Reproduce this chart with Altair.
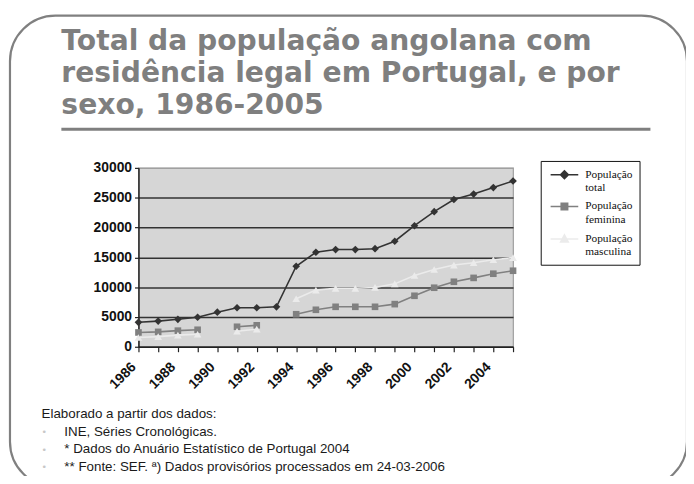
import altair as alt
import pandas as pd

# ---------------- data ----------------
years = list(range(1986, 2006))
total = [4100, 4300, 4600, 4950, 5800, 6550, 6550, 6700, 13500, 15850,
         16300, 16300, 16450, 17700, 20300, 22650, 24700, 25600, 26700, 27800]
feminina = [2400, 2500, 2700, 2850, None, 3350, 3600, None, 5450, 6200,
            6700, 6700, 6700, 7150, 8550, 9900, 10900, 11550, 12250, 12750]
masculina = [1550, 1700, 1950, 2100, None, 2600, 2950, None, 8050, 9500,
             9800, 9800, 9950, 10550, 11950, 12950, 13700, 14100, 14600, 14950]

series = ["População total", "População feminina", "População masculina"]
colors = ["#333333", "#808080", "#ebebeb"]
shapes = ["diamond", "square", "triangle-up"]
sizes = [60, 45, 60]
# legend glyphs: a line with the marker in its middle (unit = half the nominal symbol width)
legend_paths = [
    "M-3.83,0H0.83M-1.5,-0.67L-0.83,0L-1.5,0.67L-2.17,0Z",
    "M-3.83,0H0.83M-2.05,-0.55H-0.95V0.55H-2.05Z",
    "M-3.83,0H0.83M-1.5,-0.7L-0.85,0.5H-2.15Z",
]
y_ticks = [0, 5000, 10000, 15000, 20000, 25000, 30000]

title_lines = ["Total da população angolana com",
               "residência legal em Portugal, e por",
               "sexo, 1986-2005"]
footer_head = "Elaborado a partir dos dados:"
footer_lines = ["\u00a0\u00a0INE, Séries Cronológicas.",
                "* Dados do Anuário Estatístico de Portugal 2004",
                "** Fonte: SEF. ª) Dados provisórios processados em 24-03-2006"]

values = {"População total": total, "População feminina": feminina,
          "População masculina": masculina}

one = pd.DataFrame({"k": [0]})

X = alt.X("year:Q",
          scale=alt.Scale(domain=[1986, 2005], nice=False, zero=False),
          axis=alt.Axis(values=years, title=None, grid=False,
                        labelExpr="datum.value % 2 == 0 ? datum.value + '' : ''",
                        labelAngle=-45, labelAlign="right", labelBaseline="middle",
                        labelOverlap=False, labelFlush=False, labelBound=False,
                        tickSize=5, tickWidth=1.2, tickColor="#222222",
                        domainColor="#222222", domainWidth=1.5,
                        labelFont="Liberation Sans", labelFontWeight="bold",
                        labelFontSize=14, labelColor="#111111", labelPadding=13,
                        labelOffset=-5))
Y = alt.Y("value:Q",
          scale=alt.Scale(domain=[0, 30000], nice=False),
          axis=alt.Axis(values=y_ticks, format="d", title=None, grid=True,
                        gridColor=alt.condition("datum.value === 30000",
                                                alt.value("#a0a0a0"),
                                                alt.value("#333333")),
                        gridWidth=1.5,
                        tickSize=4, tickWidth=1.2, tickColor="#222222",
                        domainColor="#222222", domainWidth=1.5,
                        labelFont="Liberation Sans", labelFontWeight="bold",
                        labelFontSize=14, labelColor="#111111", labelPadding=3))

# ---------------- decorations ----------------
frame = alt.Chart(one).mark_rect(
    cornerRadius=46, fillOpacity=0, stroke="#808080", strokeWidth=2.2
).encode(x=alt.value(-130), x2=alt.value(555), y=alt.value(-154), y2=alt.value(323))

title = alt.Chart(one).mark_text(
    text=title_lines, align="left", baseline="alphabetic", font="DejaVu Sans",
    fontWeight="bold", fontSize=28.5, lineHeight=32, color="#7f7f7f"
).encode(x=alt.value(-78), y=alt.value(-119))

underline = alt.Chart(one).mark_rule(strokeWidth=3, color="#7f7f7f").encode(
    x=alt.value(-78), x2=alt.value(518), y=alt.value(-39))

foot_head = alt.Chart(one).mark_text(
    text=footer_head, align="left", baseline="alphabetic", font="Liberation Sans",
    fontSize=13.5, color="#1a1a1a"
).encode(x=alt.value(-98), y=alt.value(253))

bullets = alt.Chart(one).mark_text(
    text=["•", "•", "•"], align="left", baseline="alphabetic", font="Liberation Sans",
    fontSize=10, lineHeight=18, color="#c8c8c8"
).encode(x=alt.value(-97), y=alt.value(270))

foot_body = alt.Chart(one).mark_text(
    text=footer_lines, align="left", baseline="alphabetic", font="Liberation Sans",
    fontSize=13.5, lineHeight=18, color="#1a1a1a"
).encode(x=alt.value(-75), y=alt.value(271))

# ---------------- data layers ----------------
data_layers = []
for name, col in zip(series, colors):
    d = pd.DataFrame({"year": years, "value": values[name]})
    data_layers.append(
        alt.Chart(d).mark_line(color=col, strokeWidth=1.6,
                               invalid="break-paths-show-domains").encode(x=X, y=Y))
for name, col, shp, sz in zip(series, colors, shapes, sizes):
    d = pd.DataFrame({"year": years, "value": values[name]}).dropna()
    data_layers.append(
        alt.Chart(d).mark_point(color=col, shape=shp, size=sz, filled=True,
                                opacity=1).encode(x=X, y=Y))

# ---------------- legend (off-canvas marks, real legend) ----------------
leg = alt.Legend(title=None, orient="none", legendX=407, legendY=-7,
                 fillColor="white", strokeColor="#111111", padding=7,
                 labelFont="Liberation Serif", labelFontSize=11.5,
                 labelColor="#111111", labelExpr="split(datum.label, ' ')",
                 labelBaseline="middle", labelOffset=5, symbolOffset=19,
                 rowPadding=6,
                 symbolSize=144, symbolStrokeWidth=1.5, symbolOpacity=1)
legend_layer = alt.Chart(pd.DataFrame({"series": series})).mark_point(
    size=144, strokeWidth=1.5, filled=True, opacity=1
).encode(
    x=alt.value(-2000), y=alt.value(-2000),
    fill=alt.Fill("series:N", scale=alt.Scale(domain=series, range=colors), legend=leg),
    stroke=alt.Stroke("series:N", scale=alt.Scale(domain=series, range=colors), legend=leg),
    shape=alt.Shape("series:N", scale=alt.Scale(domain=series, range=legend_paths), legend=leg),
)

chart = alt.layer(
    frame, title, underline, foot_head, bullets, foot_body,
    *data_layers, legend_layer
).properties(
    width=379, height=181,
    padding={"left": 132, "top": 159, "right": 175, "bottom": 128},
    autosize=alt.AutoSizeParams(type="none"),
    background="white",
).configure_view(stroke="#a0a0a0", strokeWidth=1.2, fill="#d6d6d6")

chart.save("out.html", embed_options={"renderer": "svg", "actions": False})
